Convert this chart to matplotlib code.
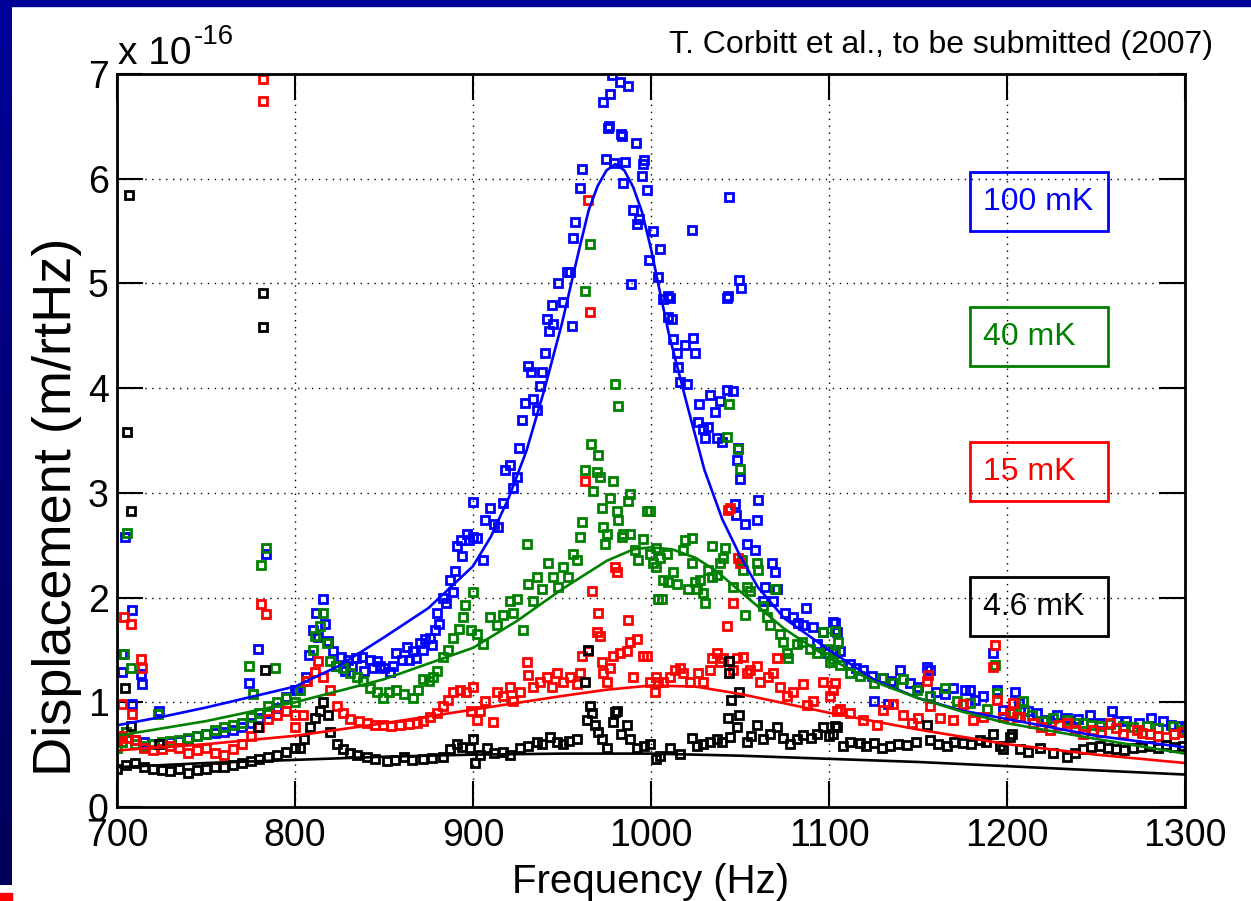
import matplotlib
matplotlib.use('Agg')
import matplotlib.pyplot as plt
import numpy as np
from matplotlib.patches import Rectangle
from matplotlib.colors import LinearSegmentedColormap

plt.rcParams['font.family'] = ['Liberation Sans', 'DejaVu Sans']

# measured displacement spectra, (frequency Hz, displacement x1e-16 m/rtHz)
blue_pts = [(700,0.68),(705,0.72),(710,0.64),(715,0.62),(720,0.60),(725,0.61),(730,0.62),(735,0.63),(740,0.65),(745,0.68),(750,0.70),(755,0.71),(760,0.72),(765,0.74),(770,0.76),(775,0.80),(780,0.85),(785,0.90),(790,0.95),(795,1.05),(800,1.12),
    (704.5,2.58),(708.2,1.88),(702.6,1.46),(702.8,1.29),(713.5,1.27),(714,1.17),(708.7,0.98),(723.6,0.92),(774.3,1.18),(779.4,1.51),(783.5,2.42),
    (801,1.12),(806,1.24),(808,1.45),(810,1.69),(812,1.85),(813,1.62),(815.6,1.99),(817,1.75),(818.7,1.59),(821.5,1.49),(823,1.35),(826,1.43),(828,1.30),(830,1.40),(832,1.35),(834,1.42),(837.5,1.43),(839,1.30),(842,1.40),(844,1.33),(846,1.39),(848,1.35),(850,1.33),(853.4,1.29),(855,1.35),(857,1.47),(860,1.40),(862.7,1.53),(864,1.40),(866.5,1.49),(868,1.42),(870.2,1.57),(872,1.50),(873,1.60),(875.8,1.61),(877,1.55),(878.7,1.69),(879.6,1.85),(881,1.75),(883.3,2.00),(885,1.95),(887,2.17),(889,2.05),(890,2.25),(890.8,2.49),(893,2.55),(894,2.40),(896.5,2.61),(898,2.55),(900.2,2.91),(902,2.57),
    (900.2,2.58),(905.8,2.36),(906.7,2.74),(909.5,2.86),(912,2.70),(914.2,2.67),(917,2.90),(918,3.22),(920.8,3.27),(922.5,3.05),(924.5,3.15),(926,3.43),(927.3,3.70),(929.2,3.86),(931,4.21),(932.5,4.15),(933.9,3.90),(935.7,3.79),(937.6,4.02),(938.6,4.15),(940.4,4.34),(941.4,4.66),(942.5,4.55),(944.2,4.79),(945.1,4.61),(947.9,5.00),(950.7,4.82),(952.6,5.11),(954.5,5.11),(955.4,4.59),(956.3,5.43),(957.3,5.59),(960.1,5.91),(961,6.09),
    (972.8,6.73),(974.7,6.19),(976,6.48),(976.6,6.50),(977,6.81),(977.9,6.99),(979,6.15),(982.6,6.92),(983,6.43),(983.5,6.41),(984,5.96),(985.4,6.16),(987,6.89),(989,4.99),(990,5.70),(991.6,6.34),(991.9,5.57),(993,5.62),(994.7,6.03),(995.7,6.14),(996.3,6.18),(997.5,5.89),(999,5.22),(1001,5.50),(1004,5.06),(1005,5.33),(1007,4.85),(1009.5,4.88),
    (1009.7,4.68),(1010.6,4.86),(1011.6,4.66),(1012.5,4.47),(1014.4,4.34),(1015.3,4.20),(1016.3,4.06),(1019,4.41),(1020,4.04),(1022.8,5.51),(1023.5,4.48),(1024.7,4.34),(1026.6,3.68),(1027.1,3.85),(1029.4,3.61),(1030.3,3.52),(1032.2,3.63),(1033.1,3.93),(1035.9,3.77),(1036.9,3.52),(1038.7,3.88),(1039.7,3.49),(1042.5,3.98),(1042.8,4.86),(1043,4.88),(1044,5.83),(1046.2,3.97),(1047.2,2.89),(1047.7,2.79),(1048.1,3.31),(1049,3.43),(1049.5,5.03),(1050,3.13),(1050.5,4.96),(1052.8,2.70),(1053.7,2.51),(1058.4,2.45),(1059.3,2.74),(1060.3,2.93),(1063,1.97),(1064,2.10),(1067.8,2.33),(1068.5,1.97),(1069.6,2.24),(1070.6,2.08),(1075,1.85),(1079.9,1.81),(1082.7,1.76),(1085.5,1.74),(1087,1.90),(1091.2,1.72),(1093,1.56),(1096.8,1.67),(1099.6,1.47),(1103.3,1.76),(1104.3,1.67),
    (1102.5,1.77),(1103.4,1.69),(1102.5,1.50),(1106.2,1.49),(1111.8,1.37),(1115,1.33),(1119.3,1.31),(1124,1.25),(1125,1.01),(1130.6,1.23),(1133.4,0.98),(1135,1.20),(1140,1.31),(1145.5,1.18),(1150,1.15),(1154.9,1.34),(1156.8,1.31),(1160,1.10),(1165,1.08),(1169.9,1.14),(1176.4,1.12),(1179.3,1.12),(1182,1.02),(1186.7,1.06),(1192.4,1.47),(1194.2,1.12),(1198,0.93),(1204.5,1.10),(1207,0.99),(1212,0.92),(1216.6,0.90),(1222,0.83),(1228,0.88),(1233.5,0.85),(1240,0.84),(1246.6,0.88),(1252,0.80),(1259,0.92),(1262,0.82),(1267,0.82),(1274,0.80),(1281,0.85),(1287.8,0.82),(1292,0.78),(1297,0.77),(1300,0.76)]

green_pts = [(700,0.56),(703,0.62),(705,0.72),(710,0.60),(715,0.58),(720,0.60),(725,0.62),(730,0.63),(735,0.64),(740,0.66),(745,0.68),(750,0.70),(755,0.74),(760,0.76),(765,0.78),(770,0.80),(775,0.86),(780,0.90),(785,0.96),(790,1.00),(795,1.04),(800,1.00),
    (705.5,2.62),(704,1.46),(708,1.33),(774,1.35),(776.5,1.08),(788.5,1.33),(723,0.89),(783.5,2.47),(781,2.31),
    (803,1.12),(806,1.20),(810,1.50),(811,1.63),(814,1.73),(816,1.85),(817.8,1.57),(819.7,1.39),(823,1.35),(827,1.33),(831,1.28),(834.6,1.24),(838,1.20),(842,1.14),(846,1.10),(849.6,1.04),(853,1.10),(857,1.12),(861,1.08),(866.5,1.04),(869,1.12),(872,1.22),(875,1.20),(877.7,1.24),(880,1.30),(883.3,1.43),(886,1.50),(889,1.61),(892,1.70),(894.6,1.81),(895.5,1.93),(899,1.69),(900.2,2.05),
    (902,1.65),(905.8,1.56),(909.5,1.81),(913.3,1.74),(917,1.83),(920.8,1.97),(922.6,1.85),(924.5,1.99),(928.3,1.69),(930.1,2.51),(931,2.13),(933.9,1.97),(935.7,2.20),(938.6,2.08),(942.3,2.33),(945.1,2.20),(947.9,2.10),(950.7,2.29),(953.5,2.20),(956.3,2.42),(958.2,2.36),(960.1,2.58),(961,2.72),(962.9,4.93),(965.7,5.38),(962.9,3.22),(966.3,3.47),(970.4,3.36),(969.5,3.20),(971.3,3.15),(967.6,3.02),(972.3,2.86),(973.2,2.67),(975.1,2.61),(974.1,2.51),(976.9,2.95),(978.8,3.11),(979.8,4.04),(981.6,3.83),(980.7,2.83),(981.6,2.74),(983.5,2.58),(984.4,2.61),(987.3,2.92),(988.2,2.99),(988.2,2.61),(991,2.45),(992.9,2.36),(995.7,2.56),(997.6,2.83),(999.4,2.42),(1001.3,2.33),(1003,2.47),(1004,1.99),
    (999.4,2.83),(1005,2.38),(1008.8,2.42),(1003,2.29),(1006.9,2.17),(1009.7,2.15),(1012.5,2.24),(1014.4,2.13),(1006,1.99),(1018.1,2.45),(1019,2.55),(1023.2,2.57),(1022.8,2.33),(1020.9,2.08),(1025.6,2.08),(1024.7,2.15),(1027.5,2.17),(1029.4,2.04),(1030.3,1.95),(1032.2,2.26),(1034,2.49),(1034,2.20),(1036.9,2.22),(1038.7,2.33),(1040.6,2.38),(1041.5,2.47),(1044,3.85),(1042.8,3.53),(1049,3.42),(1050,3.23),(1045.8,2.10),(1050.9,2.36),(1051.8,2.26),(1053.7,2.10),(1055.6,2.06),(1052.8,1.83),(1059.3,2.33),(1060.3,2.26),(1063,1.92),(1065,1.81),(1066.8,1.74),(1069.6,2.08),(1072.4,1.65),(1074.3,1.58),(1076.2,1.47),(1077.1,1.42),(1081.8,1.56),(1084.6,1.58),(1089.3,1.51),(1093,1.47),(1096.8,1.67),(1098.7,1.51),(1100.5,1.38),(1103.3,1.47),(1105.2,1.58),
    (1103.4,1.68),(1102.5,1.41),(1106.2,1.36),(1111.8,1.28),(1117.5,1.25),(1125,1.18),(1129.6,1.23),(1136.2,1.18),(1141.8,1.22),(1149.3,1.12),(1156.8,1.06),(1165.2,1.14),(1171.8,1.01),(1179.3,0.99),(1188.6,0.94),(1193.3,1.36),(1194.2,1.09),(1198,0.86),(1203.6,0.90),(1209,1.01),(1209.5,0.93),(1214,0.88),(1220.3,0.82),(1226,0.85),(1233.5,0.83),(1238,0.80),(1242.8,0.80),(1247,0.78),(1252,0.77),(1258,0.79),(1265.3,0.77),(1271,0.76),(1278.4,0.77),(1285,0.75),(1293.4,0.77),(1299,0.74)]

red_pts = [(700,0.64),(703,0.68),(706,0.66),(710,0.64),(715,0.56),(720,0.54),(725,0.55),(730,0.58),(735,0.56),(740,0.52),(745,0.54),(750,0.56),(755,0.52),(760,0.50),(765,0.55),(770,0.60),(775,0.68),(780,0.76),(785,0.84),(790,0.88),(795,0.92),(800,0.88),
    (704,1.81),(708,1.75),(713.5,1.41),(714,1.33),(702.6,0.98),(708.7,0.89),(781,1.94),(783.5,1.84),(782,6.95),(782,6.74),
    (800,0.76),(804.7,0.88),(806.6,1.20),(811,1.29),(813,1.39),(816,1.24),(819.7,1.12),(823.4,0.96),(827,0.90),(831,0.84),(836,0.82),(840.3,0.80),(845,0.78),(849.6,0.78),(854,0.77),(859,0.78),(864,0.79),(868.4,0.80),(872,0.82),(875.8,0.86),(880,0.90),(883.3,0.96),(886,1.02),(889,1.10),(892.7,1.12),(896,1.10),(899,0.92),
    (900.2,1.15),(902,0.83),(904,0.92),(906.7,1.01),(911.4,0.81),(913.3,1.10),(917,1.06),(920.8,1.15),(922.6,1.01),(926.4,1.10),(930.1,1.38),(931,1.26),(933.9,1.15),(937.6,1.19),(941.4,1.24),(944.2,1.15),(947,1.28),(950.7,1.19),(954.5,1.24),(958.2,1.17),(960.1,1.28),(961,1.44),(962.9,3.11),(964.8,5.80),(964.8,1.49),(965.7,4.73),(966.7,2.06),(969.5,1.67),(970.4,1.85),(971.3,1.63),(972.3,1.38),(973.2,1.28),(975.1,1.19),(977,1.33),(978.8,1.44),(979.8,2.29),(980.7,2.24),(982.6,1.47),(986.4,1.49),(987.3,1.79),(988.2,1.58),(990,1.24),(992,1.60),(995.7,1.44),(997.6,1.44),(999.4,1.19),(1002,1.10),(1004,1.19),
    (1003,1.24),(1006.9,1.19),(1010.6,1.24),(1013.4,1.31),(1016.3,1.33),(1018.1,1.28),(1021.9,1.19),(1026.6,1.28),(1029.4,1.19),(1033.1,1.31),(1034,1.42),(1036.9,1.47),(1038.7,1.38),(1040.6,1.42),(1042.5,1.73),(1043.4,2.84),(1044.3,2.86),(1045.8,1.95),(1046.2,1.31),(1048.1,1.42),(1049,2.38),(1050,2.33),(1051.8,1.43),(1053.7,1.28),(1055.6,1.31),(1059.3,1.35),(1061.2,1.19),(1065.9,1.24),(1068.7,1.28),(1070.6,1.42),(1072.4,1.15),(1076.2,1.06),(1079.9,1.10),(1085.5,1.17),(1087.4,0.97),(1091.2,1.01),(1096.8,1.19),(1100.5,1.06),(1104.3,0.92),
    (1103.4,1.18),(1102.5,1.12),(1106.2,0.94),(1111.8,0.90),(1119.3,0.83),(1126.8,0.78),(1130.6,0.93),(1136.2,0.98),(1141.8,0.88),(1146.5,0.80),(1150,0.85),(1154.9,1.20),(1155.8,1.26),(1156.8,0.96),(1162.4,0.85),(1169.9,0.83),(1175.5,0.98),(1181.1,0.83),(1186.7,0.86),(1192.4,1.34),(1193.3,1.55),(1194.2,1.02),(1198,0.86),(1201.6,0.90),(1203.5,0.99),(1205.5,0.86),(1207.2,0.86),(1214.7,0.80),(1219,0.76),(1224,0.74),(1229,0.78),(1233.5,0.80),(1238,0.74),(1242.8,0.70),(1248.4,0.74),(1253,0.72),(1257.8,0.80),(1261,0.75),(1265.3,0.70),(1272.8,0.74),(1276,0.71),(1280.3,0.70),(1285,0.68),(1289.6,0.67),(1294,0.70),(1299,0.72)]

black_pts = [(700,0.36),(705,0.40),(710,0.42),(715,0.38),(720,0.36),(725,0.35),(730,0.34),(735,0.36),(740,0.32),(745,0.35),(750,0.36),(755,0.38),(760,0.38),(765,0.40),(770,0.42),(775,0.44),(780,0.46),(785,0.48),(790,0.50),(795,0.53),(800,0.56),
    (706.7,5.84),(782,4.91),(782,4.58),(705.6,3.58),(708,2.83),(704.5,1.14),(783,1.31),(723.6,0.60),(779,0.76),(708,0.77),
    (802.8,0.56),(805,0.65),(808.4,0.76),(811,0.85),(814,0.92),(816,1.00),(818.8,0.88),(819.7,0.72),(823.4,0.60),(827,0.55),(831,0.52),(835,0.50),(840.3,0.48),(845,0.46),(851.5,0.44),(856,0.45),(861,0.48),(866,0.45),(872,0.46),(877,0.47),(883.3,0.48),(887,0.55),(890.8,0.60),(894,0.57),(898.3,0.56),
    (900.2,0.65),(901,0.42),(904,0.50),(907.7,0.56),(912,0.52),(917,0.53),(921,0.50),(926.4,0.56),(931,0.58),(935.7,0.62),(939,0.60),(943.2,0.67),(947,0.62),(950.7,0.60),(954,0.63),(958.2,0.65),(963,1.19),(963.8,0.83),(964.8,1.50),(965.7,0.96),(966.7,0.90),(968.5,0.78),(970,0.72),(972.3,0.65),(975.1,0.56),(978.8,0.81),(980,0.91),(980.7,0.92),(983,0.70),(986.4,0.78),(988.2,0.65),(992,0.56),(996,0.58),(999.4,0.60),(1003,0.46),
    (1005,0.49),(1010.6,0.56),(1016.3,0.51),(1022.8,0.66),(1026,0.58),(1029.4,0.60),(1033,0.62),(1036.9,0.65),(1040,0.62),(1043,0.85),(1043.6,1.28),(1044,1.39),(1044.3,0.67),(1045,1.02),(1048.1,0.76),(1049.2,1.10),(1049.6,0.88),(1053.7,0.62),(1056,0.68),(1059.3,0.78),(1063,0.65),(1067,0.70),(1070.6,0.76),(1074,0.66),(1078,0.60),(1082,0.65),(1085.5,0.69),(1090,0.66),(1093,0.70),(1096.8,0.76),(1100,0.68),(1104.3,0.76),
    (1103.4,0.77),(1102.5,0.70),(1108,0.58),(1112,0.62),(1117.5,0.61),(1121,0.58),(1125,0.61),(1130,0.56),(1134.3,0.58),(1139,0.60),(1143.7,0.59),(1149,0.62),(1154.9,0.78),(1156.8,0.64),(1161,0.60),(1166.1,0.58),(1170,0.62),(1175.5,0.61),(1180,0.60),(1184.9,0.64),(1188,0.62),(1192.4,0.70),(1196,0.58),(1198,0.55),(1201.6,0.67),(1202.7,0.70),(1207.2,0.55),(1212,0.53),(1218.5,0.56),(1226,0.52),(1233.5,0.48),(1238,0.52),(1242.8,0.55),(1247,0.57),(1252,0.58),(1257,0.56),(1261.5,0.55),(1266,0.54),(1270.9,0.56),(1275,0.57),(1280.3,0.58),(1285,0.56),(1289.6,0.59),(1294,0.57),(1299,0.58)]

# fitted curves
blue_fit_f = [700,725,750,775,800,825,850,875,900,910,920,930,940,950,960,965,970,975,980,985,990,995,1000,1005,1010,1020,1030,1040,1050,1060,1075,1100,1125,1150,1175,1200,1250,1300]
blue_fit_v = [0.78,0.86,0.95,1.05,1.15,1.35,1.62,1.90,2.30,2.58,2.95,3.40,3.98,4.62,5.35,5.70,5.93,6.08,6.14,6.08,5.92,5.68,5.33,4.92,4.52,3.86,3.22,2.75,2.40,2.10,1.80,1.50,1.22,1.04,0.92,0.84,0.68,0.57]
green_fit_f = [700,750,800,850,900,925,950,975,990,1000,1012,1025,1037,1050,1075,1100,1125,1150,1175,1200,1250,1300]
green_fit_v = [0.68,0.82,1.00,1.22,1.52,1.78,2.08,2.35,2.46,2.48,2.46,2.38,2.25,2.06,1.70,1.42,1.20,1.04,0.91,0.80,0.65,0.51]
red_fit_f = [700,750,800,850,900,950,975,1000,1025,1050,1075,1100,1150,1200,1250,1300]
red_fit_v = [0.54,0.60,0.68,0.80,0.93,1.06,1.12,1.16,1.15,1.08,0.99,0.90,0.74,0.60,0.50,0.42]
black_fit_f = [700,750,800,850,900,950,1000,1050,1100,1150,1200,1250,1300]
black_fit_v = [0.38,0.42,0.45,0.48,0.50,0.51,0.51,0.49,0.46,0.43,0.39,0.35,0.31]

labels = ['100 mK', '40 mK', '15 mK', '4.6 mK']
colors = ['#0000ff', '#008000', '#ff0000', '#000000']

W, H = 1251, 901
fig = plt.figure(figsize=(W / 100, H / 100), dpi=100)
fig.patch.set_facecolor('white')

# slide frame
fig.patches.append(Rectangle((0, 1 - 6 / H), 1, 6 / H, transform=fig.transFigure,
                             color='#000099', zorder=0))
bar = fig.add_axes([0, 1 - 885 / H, 12 / W, 885 / H])
cmap = LinearSegmentedColormap.from_list('frame', ['#000099', '#000058'])
bar.imshow(np.linspace(0, 1, 200).reshape(-1, 1), cmap=cmap, aspect='auto')
bar.axis('off')
fig.patches.append(Rectangle((0, 0), 12 / W, 8 / H, transform=fig.transFigure,
                             color='#ff0000', zorder=0))

ax = fig.add_axes([117 / W, 1 - 807 / H, (1185 - 117) / W, (807 - 74) / H])

series = [blue_pts, green_pts, red_pts, black_pts]
for pts, c in zip(series, colors):
    f = [p[0] for p in pts]
    v = [p[1] for p in pts]
    ax.plot(f, v, 's', mfc='none', mec=c, ms=5.5, mew=2.0, ls='none')

fits = [(blue_fit_f, blue_fit_v), (green_fit_f, green_fit_v),
        (red_fit_f, red_fit_v), (black_fit_f, black_fit_v)]
for (ff, fv), c in zip(fits, colors):
    ax.plot(ff, fv, color=c, lw=1.9)

ax.set_xlim(700, 1300)
ax.set_ylim(0, 7)
ax.set_xticks(range(700, 1301, 100))
ax.set_yticks(range(0, 8))
ax.grid(True, color='k', linestyle=(0, (1, 4)), linewidth=1.0)
ax.tick_params(direction='in', length=19, width=1.5, top=True, right=True,
               labelsize=27)
ax.tick_params(axis='x', pad=8)
ax.tick_params(axis='y', pad=6)
for s in ax.spines.values():
    s.set_linewidth(2)

fig.text(1213 / W, 1 - 45 / H, 'T. Corbitt et al., to be submitted (2007)',
         ha='right', va='center', fontsize=23)
fig.text(118 / W, 1 - 64 / H, 'x 10', ha='left', va='baseline', fontsize=28)
fig.text(194 / W, 1 - 44 / H, '-16', ha='left', va='baseline', fontsize=20)

fig.text(651 / W, 1 - 893 / H, 'Frequency (Hz)', ha='center', va='baseline', fontsize=29)
fig.text(57 / W, 1 - 507 / H, 'Displacement (m/rtHz)', ha='center', va='center',
         rotation=90, fontsize=39)

tops = [172, 307, 442, 577]
for lab, c, t in zip(labels, colors, tops):
    fig.patches.append(Rectangle((970 / W, 1 - (t + 59) / H), 138 / W, 59 / H,
                                 transform=fig.transFigure, fill=False,
                                 edgecolor=c, linewidth=2, zorder=5))
    fig.text(983 / W, 1 - (t + 30) / H, lab, color=c, ha='left', va='center',
             fontsize=23, zorder=6)

fig.savefig('out.png', dpi=100)
